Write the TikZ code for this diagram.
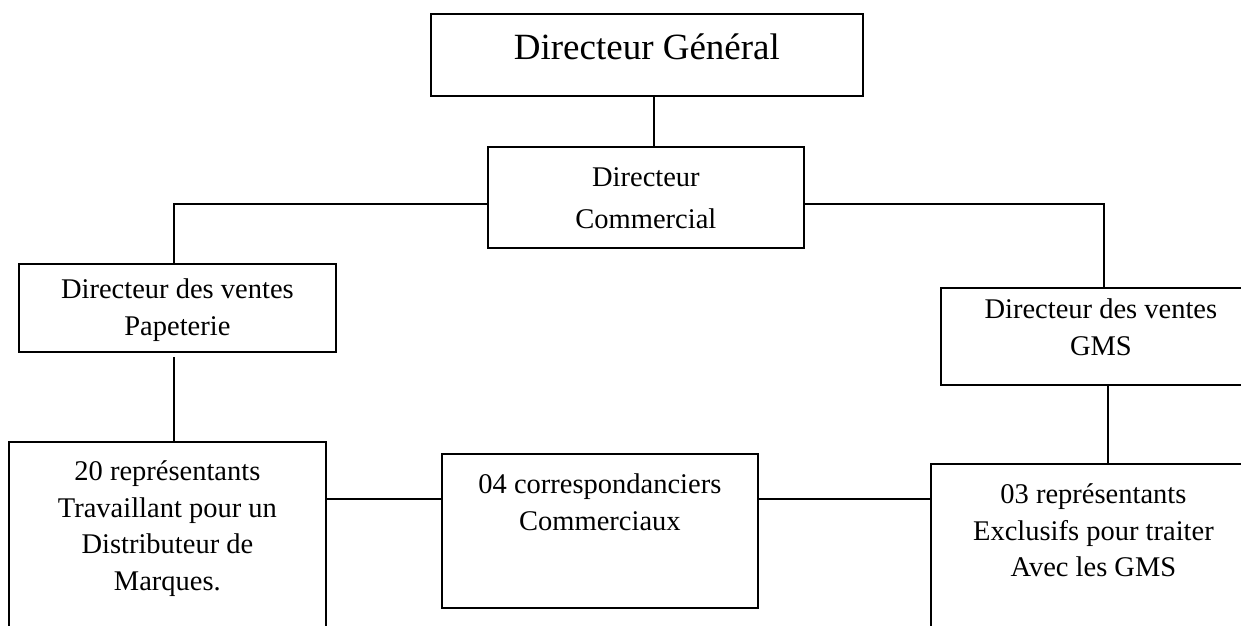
\documentclass[tikz,border=0pt]{standalone}
\usepackage{fontspec}
\setmainfont{Liberation Serif}
\usepackage{tikz}
% texte en haut de la boite : largeur, hauteur, position de la 1re ligne, texte
\newcommand{\cadre}[4]{\parbox[t][#2][t]{#1}{\centering\rule{0pt}{#3}#4}}

\begin{document}
\begin{tikzpicture}[x=1pt,y=-1pt,
  boite/.style={draw,line width=1.8pt,inner sep=0pt,anchor=north west,
    font=\fontsize{28.5}{36.5}\selectfont},
  lien/.style={line width=1.7pt}]
\useasboundingbox (0,0) rectangle (1241,625);
\clip (0,0) rectangle (1241,625);
%direction
\node[boite,font=\fontsize{37}{44}\selectfont] (dg) at (430,13) {\cadre{432pt}{82pt}{46pt}{Directeur Général}};
\node[boite] (dc) at (487,146) {\cadre{316pt}{101pt}{40pt}{Directeur\\[5pt]Commercial}};
%directeurs des ventes
\node[boite] (dvp) at (18,263) {\cadre{317pt}{88pt}{35pt}{Directeur des ventes\\Papeterie}};
\node[boite] (dvg) at (940,287) {\cadre{320pt}{97pt}{31pt}{Directeur des ventes\\GMS}};
%equipes
\node[boite] (rep) at (8,441) {\cadre{317pt}{250pt}{39pt}{20 représentants\\Travaillant pour un\\Distributeur de\\Marques.}};
\node[boite] (corr) at (441,453) {\cadre{316pt}{154pt}{40pt}{04 correspondanciers\\Commerciaux}};
\node[boite] (gms) at (930,463) {\cadre{325pt}{220pt}{40pt}{03 représentants\\Exclusifs pour traiter\\Avec les GMS}};
%liens
\draw[lien] ([xshift=7pt]dg.south) -- ([xshift=7pt]dg.south |- dc.north);
\draw[lien] ([yshift=-6.5pt]dc.west) -| ([xshift=-3.5pt]dvp.north);
\draw[lien] ([yshift=-6.5pt]dc.east) -| ([xshift=3pt]dvg.north);
\draw[lien] ([xshift=-3.5pt,yshift=-4pt]dvp.south) -- ([xshift=-3.5pt]dvp.south |- rep.north);
\draw[lien] ([xshift=7pt]dvg.south) -- ([xshift=7pt]dvg.south |- gms.north);
\draw[lien] ([yshift=32pt]corr.west) -- ([yshift=32pt]corr.west -| rep.east);
\draw[lien] ([yshift=32pt]corr.east) -- ([yshift=32pt]corr.east -| gms.west);
\end{tikzpicture}
\end{document}
